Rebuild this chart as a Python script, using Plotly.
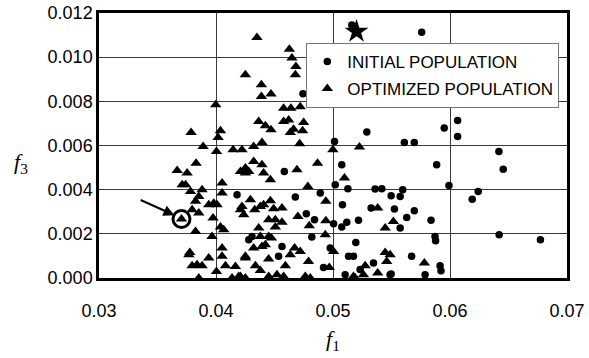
import plotly.graph_objects as go

# Initial population (circles)
init_f1 = [0.05161, 0.04743, 0.04871, 0.05758, 0.06065, 0.06065, 0.05951, 0.05610, 0.05695, 0.05013,
           0.05289, 0.06418, 0.06455, 0.05886, 0.05991, 0.06241, 0.06190, 0.05596, 0.05574, 0.05497,
           0.05525, 0.05695, 0.05630, 0.05574, 0.05838, 0.05872, 0.05877, 0.06420, 0.06773, 0.05672,
           0.05915, 0.05923, 0.05497, 0.05787, 0.04584, 0.05075, 0.05019, 0.05127, 0.04891, 0.05360,
           0.05417, 0.04678, 0.05081, 0.05326, 0.04772, 0.04842, 0.05005, 0.05075, 0.05118, 0.05218,
           0.04308, 0.04280, 0.04819, 0.04564, 0.04976, 0.05195, 0.04535, 0.05133, 0.05175, 0.05346,
           0.04919, 0.05232, 0.05104, 0.05488, 0.04180]
init_f3 = [0.01146, 0.00834, 0.00792, 0.01113, 0.00713, 0.00641, 0.00679, 0.00614, 0.00614, 0.00618,
           0.00661, 0.00573, 0.00493, 0.00513, 0.00419, 0.00392, 0.00357, 0.00400, 0.00369, 0.00372,
           0.00312, 0.00305, 0.00274, 0.00226, 0.00261, 0.00188, 0.00169, 0.00196, 0.00173, 0.00098,
           0.00056, 0.00033, 0.00018, 0.00015, 0.00482, 0.00513, 0.00422, 0.00404, 0.00385, 0.00403,
           0.00404, 0.00367, 0.00332, 0.00317, 0.00291, 0.00264, 0.00246, 0.00231, 0.00252, 0.00261,
           0.00188, 0.00173, 0.00186, 0.00143, 0.00136, 0.00161, 0.00098, 0.00098, 0.00098, 0.00068,
           0.00048, 0.00038, 0.00015, 0.00015, 0.00377]

# Optimized population (triangles)
opt_f1 = [0.04251, 0.03998, 0.03787, 0.04038, 0.04018, 0.03890, 0.04004, 0.04146, 0.04222, 0.03830,
          0.03668, 0.03753, 0.04209, 0.04251, 0.03711, 0.03740, 0.04052, 0.03782, 0.03881, 0.04052,
          0.03853, 0.03825, 0.03938, 0.03981, 0.04009, 0.04222, 0.04209, 0.03796, 0.03853, 0.04237,
          0.03705, 0.03975, 0.04038, 0.04066, 0.03825, 0.03966, 0.04052, 0.03776, 0.03768, 0.04052,
          0.03938, 0.04251, 0.03796, 0.03838, 0.03881, 0.04081, 0.04166, 0.04004, 0.03853, 0.04137,
          0.04209, 0.04251, 0.04322, 0.04393, 0.04715, 0.04999, 0.05226, 0.04322, 0.04393, 0.04251,
          0.04280, 0.04407, 0.04692, 0.04868, 0.04465, 0.05098, 0.04785, 0.04939, 0.04294, 0.04465,
          0.04331, 0.04379, 0.04407, 0.04493, 0.04564, 0.05382, 0.04700, 0.04450, 0.04507, 0.04564,
          0.04797, 0.04939, 0.05446, 0.05516, 0.04365, 0.04507, 0.04379, 0.04450, 0.04473, 0.04934,
          0.04422, 0.04393, 0.04322, 0.04672, 0.04720, 0.05005, 0.04251, 0.04450, 0.04635, 0.04791,
          0.05446, 0.05459, 0.05275, 0.04337, 0.04379, 0.04593, 0.04968, 0.04194, 0.04450, 0.04521,
          0.04578, 0.04763, 0.04806, 0.05175, 0.05190, 0.05260, 0.05382, 0.05781, 0.05488, 0.04350,
          0.04627, 0.04649, 0.04683, 0.04678, 0.04388, 0.04388, 0.04470, 0.04578, 0.04640, 0.04720,
          0.05028, 0.04365, 0.04422, 0.04470, 0.04578, 0.04621, 0.04749, 0.04635, 0.04663, 0.04740]
opt_f3 = [0.00920, 0.00784, 0.00659, 0.00667, 0.00636, 0.00595, 0.00573, 0.00581, 0.00581, 0.00520,
          0.00487, 0.00475, 0.00482, 0.00475, 0.00422, 0.00422, 0.00430, 0.00392, 0.00400, 0.00385,
          0.00369, 0.00347, 0.00332, 0.00339, 0.00332, 0.00324, 0.00309, 0.00309, 0.00294, 0.00286,
          0.00267, 0.00272, 0.00231, 0.00219, 0.00211, 0.00188, 0.00136, 0.00116, 0.00105, 0.00098,
          0.00091, 0.00098, 0.00056, 0.00060, 0.00056, 0.00056, 0.00052, 0.00030, 0.00000, 0.00000,
          0.00007, 0.00000, 0.00595, 0.00614, 0.00608, 0.00581, 0.00593, 0.00528, 0.00513, 0.00498,
          0.00482, 0.00475, 0.00490, 0.00520, 0.00445, 0.00453, 0.00414, 0.00347, 0.00354, 0.00350,
          0.00309, 0.00324, 0.00332, 0.00314, 0.00317, 0.00317, 0.00279, 0.00264, 0.00264, 0.00252,
          0.00237, 0.00259, 0.00226, 0.00256, 0.00226, 0.00231, 0.00188, 0.00188, 0.00181, 0.00196,
          0.00151, 0.00143, 0.00136, 0.00136, 0.00120, 0.00120, 0.00091, 0.00086, 0.00105, 0.00075,
          0.00116, 0.00075, 0.00056, 0.00056, 0.00034, 0.00056, 0.00048, 0.00007, 0.00007, 0.00015,
          0.00007, 0.00007, 0.00000, 0.00007, 0.00000, 0.00015, 0.00023, 0.00068, 0.00105, 0.01089,
          0.01036, 0.00996, 0.00958, 0.00920, 0.00875, 0.00822, 0.00833, 0.00769, 0.00769, 0.00776,
          0.00789, 0.00709, 0.00689, 0.00671, 0.00709, 0.00716, 0.00704, 0.00659, 0.00674, 0.00667]

# Highlighted solutions
star_f1 = [0.05201]
star_f3 = [0.01116]
chosen_f1 = [0.03705]
chosen_f3 = [0.00267]
arrow_tail = (0.03343, 0.00356)

x_ticks = [0.03, 0.04, 0.05, 0.06, 0.07]
y_ticks = [0.000, 0.002, 0.004, 0.006, 0.008, 0.010, 0.012]

fig = go.Figure()
fig.add_trace(go.Scatter(x=init_f1, y=init_f3, mode="markers", name="INITIAL POPULATION",
                         legendgroup="a",
                         marker=dict(symbol="circle", size=7.5, color="black")))
fig.add_trace(go.Scatter(x=opt_f1, y=opt_f3, mode="markers", name="OPTIMIZED POPULATION",
                         legendgroup="b",
                         marker=dict(symbol="triangle-up", size=10, color="black")))
fig.add_trace(go.Scatter(x=star_f1, y=star_f3, mode="markers", showlegend=False,
                         marker=dict(symbol="star", size=18, color="black")))
fig.add_trace(go.Scatter(x=chosen_f1, y=chosen_f3, mode="markers", showlegend=False,
                         marker=dict(symbol="circle-open", size=17, color="black",
                                     line=dict(width=3, color="black"))))

fig.add_annotation(x=chosen_f1[0] - 0.0006, y=chosen_f3[0] + 0.00017, ax=arrow_tail[0], ay=arrow_tail[1],
                   xref="x", yref="y", axref="x", ayref="y", text="", showarrow=True,
                   arrowhead=2, arrowsize=1, arrowwidth=2.2, arrowcolor="black")

fig.add_annotation(text="<i>f</i><sub>3</sub>", xref="paper", yref="paper", x=-0.166, y=0.435,
                   xanchor="center", yanchor="middle", showarrow=False,
                   font=dict(family="Liberation Serif", size=22, color="black"))
fig.add_annotation(text="<i>f</i><sub>1</sub>", xref="paper", yref="paper", x=0.499, y=-0.234,
                   xanchor="center", yanchor="middle", showarrow=False,
                   font=dict(family="Liberation Serif", size=22, color="black"))

axis_common = dict(showline=True, linecolor="black", linewidth=2.5, mirror=True,
                   showgrid=True, gridcolor="#3a3a3a", gridwidth=1, zeroline=False,
                   tickfont=dict(family="Liberation Sans", size=18, color="black"),
                   tickcolor="rgba(0,0,0,0)", automargin=False)
fig.update_xaxes(range=[0.03, 0.07], tickvals=x_ticks, tickformat=".2f",
                 ticks="outside", ticklen=15, **axis_common)
fig.update_yaxes(range=[0, 0.012], tickvals=y_ticks, tickformat=".3f", ticks="", **axis_common)

fig.update_layout(
    width=589, height=358,
    margin=dict(l=99, r=22, t=13, b=80),
    plot_bgcolor="white", paper_bgcolor="white",
    font=dict(family="Liberation Sans", color="black"),
    legend=dict(x=0.443, y=0.887, xanchor="left", yanchor="top",
                bgcolor="white", bordercolor="#777", borderwidth=1,
                font=dict(family="Liberation Sans", size=17, color="black"),
                tracegroupgap=2, itemwidth=30),
)

fig.write_html("out.html", config={"displayModeBar": False},
               post_script="document.body.style.margin='0';")
